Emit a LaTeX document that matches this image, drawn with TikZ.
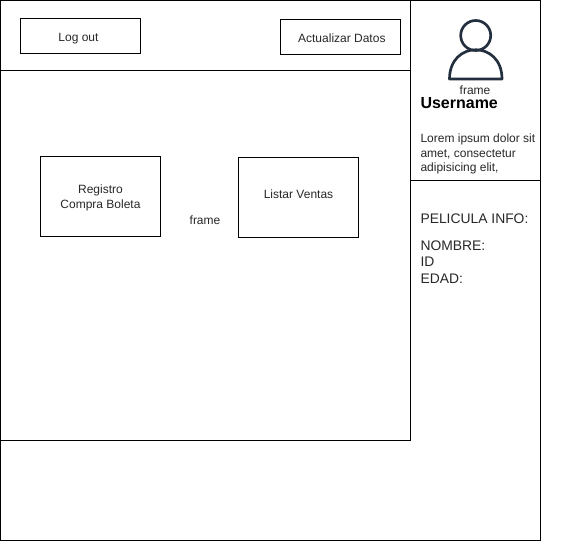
\documentclass[tikz,border=0pt]{standalone}
\usepackage{fontspec}
\setmainfont{Liberation Sans}
\definecolor{inkc}{RGB}{35,47,62}
\definecolor{textc}{RGB}{40,40,40}
\tikzset{
 box/.style={draw=black,line width=0.75pt,fill=white,inner sep=0pt,align=center,text=textc,font=\fontsize{9}{11.25}\selectfont},
 txt/.style={inner sep=0pt,text=textc,font=\fontsize{9}{11}\selectfont,anchor=base west,align=left},
 big/.style={inner sep=0pt,text=textc,font=\fontsize{10.4}{12}\selectfont,anchor=base west},
 lab/.style={inner sep=0pt,text=textc,font=\fontsize{9}{10.5}\selectfont,anchor=base}
}
\begin{document}
\begin{tikzpicture}[x=0.75pt,y=-0.75pt,line width=0.75pt]
\useasboundingbox (0,0) rectangle (566,541);
\fill[white] (0,0) rectangle (566,541);
\draw (0.5,0.5) rectangle (540.5,540.5);
\draw (0.5,70.5) rectangle (410.5,440.5);
\draw (0.5,0.5) rectangle (410.5,70.5);
\draw (410.5,0.5) rectangle (540.5,180.5);
\node[box,minimum width=90pt,minimum height=26.25pt] (logout) at (80.5,35.75) {\hspace{-3pt}\rule[-3.375pt]{0pt}{15pt}Log out};
\node[box,minimum width=90pt,minimum height=26.25pt] (upd) at (340.5,37) {\hspace{2pt}\rule[-3.375pt]{0pt}{14.6pt}Actualizar Datos};
\node[box,minimum width=90pt,minimum height=60pt] (reg) at (100.5,196.5) {\rule[-3.375pt]{0pt}{13.9pt}Registro\\\strut Compra Boleta};
\node[box,minimum width=90pt,minimum height=60pt] (list) at (298.5,197.5) {\raisebox{6.8pt}{\strut Listar Ventas}};
\node[lab] (f1) at (205,224.5) {frame};
\draw[line width=2pt,draw=inkc] (475.7,35.5) circle (15);
\draw[line width=2pt,draw=inkc,line join=round] (449.5,79) .. controls (449.5,40) and (502,40) .. (502,79) -- cycle;
\node[lab] (f2) at (475,94.5) {frame};
\node[inner sep=0pt,anchor=base west,text=black,font=\fontsize{12}{14}\selectfont\bfseries] (user) at (420,109) {Username};
\node[txt] (lorem) at (420,172) {Lorem ipsum dolor sit\\amet, consectetur\\adipisicing elit,};
\node[big] (pi) at (420,223.5) {PELICULA INFO:};
\node[big] (nom) at (420,250) {NOMBRE:};
\node[big] (id) at (420,266) {ID};
\node[big] (ed) at (420,283) {EDAD:};
\end{tikzpicture}
\end{document}
